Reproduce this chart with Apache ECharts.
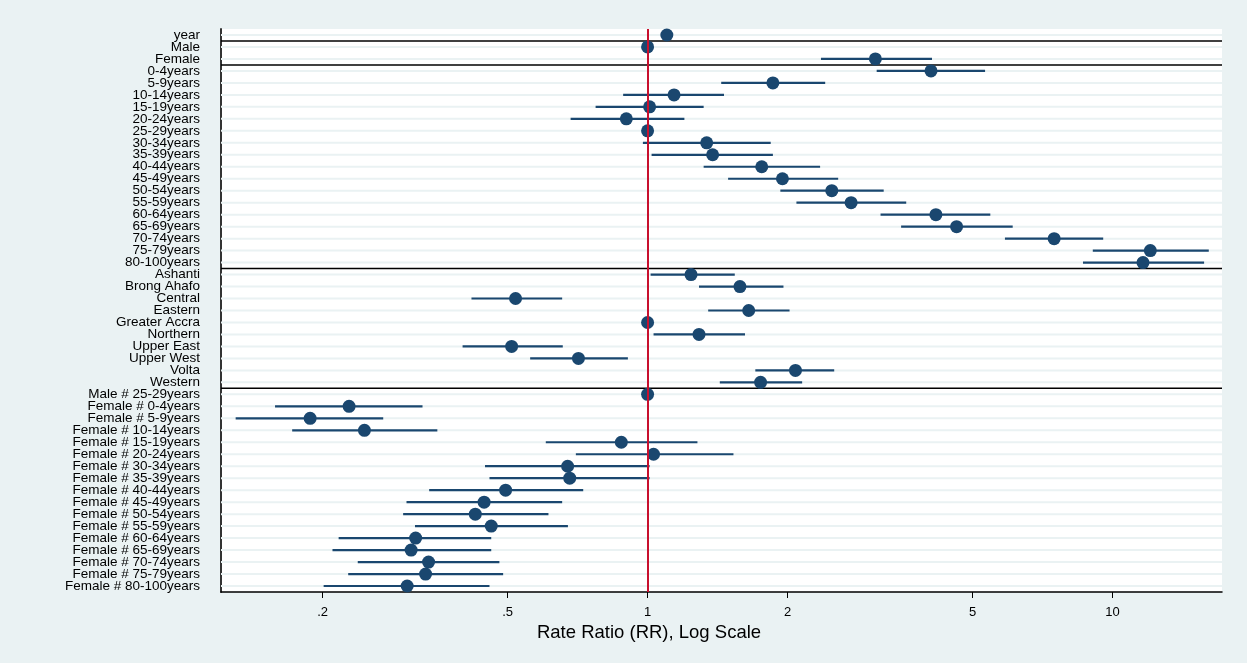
<!DOCTYPE html>
<html>
<head>
<meta charset="utf-8">
<title>Rate Ratio forest plot</title>
<script src="https://cdn.jsdelivr.net/npm/echarts@6/dist/echarts.min.js"></script>
<style>
html, body { margin: 0; padding: 0; background: #eaf2f3; }
#main { width: 1247px; height: 663px; }
</style>
</head>
<body>
<div id="main"></div>
<script>
// 行标签（从上到下）
var labels = ['year', 'Male', 'Female',
	'0-4years', '5-9years', '10-14years', '15-19years', '20-24years', '25-29years', '30-34years',
	'35-39years', '40-44years', '45-49years', '50-54years', '55-59years', '60-64years', '65-69years',
	'70-74years', '75-79years', '80-100years',
	'Ashanti', 'Brong Ahafo', 'Central', 'Eastern', 'Greater Accra', 'Northern', 'Upper East',
	'Upper West', 'Volta', 'Western',
	'Male # 25-29years', 'Female # 0-4years', 'Female # 5-9years', 'Female # 10-14years',
	'Female # 15-19years', 'Female # 20-24years', 'Female # 30-34years', 'Female # 35-39years',
	'Female # 40-44years', 'Female # 45-49years', 'Female # 50-54years', 'Female # 55-59years',
	'Female # 60-64years', 'Female # 65-69years', 'Female # 70-74years', 'Female # 75-79years',
	'Female # 80-100years'];

// 点估计 RR
var rr = [1.10, 1, 3.09,
	4.07, 1.86, 1.14, 1.01, 0.90, 1, 1.34, 1.38, 1.76, 1.95, 2.49, 2.74, 4.17, 4.62, 7.49, 12.06, 11.63,
	1.24, 1.58, 0.52, 1.65, 1, 1.29, 0.51, 0.71, 2.08, 1.75,
	1, 0.228, 0.188, 0.246, 0.878, 1.03, 0.673, 0.68, 0.495, 0.445, 0.426, 0.461, 0.317, 0.310,
	0.338, 0.333, 0.304];

// 95% 置信区间下限 / 上限（参照组为 null）
var lower = [1.09, null, 2.36,
	3.11, 1.44, 0.886, 0.773, 0.683, null, 0.977, 1.02, 1.32, 1.49, 1.93, 2.09, 3.17, 3.51, 5.87, 9.07, 8.64,
	1.015, 1.29, 0.418, 1.35, null, 1.03, 0.40, 0.559, 1.705, 1.43,
	null, 0.158, 0.130, 0.172, 0.604, 0.701, 0.447, 0.457, 0.339, 0.303, 0.298, 0.316, 0.2165, 0.210,
	0.238, 0.227, 0.201];
var upper = [1.11, null, 4.09,
	5.32, 2.41, 1.46, 1.32, 1.20, null, 1.84, 1.86, 2.35, 2.57, 3.22, 3.60, 5.46, 6.10, 9.55, 16.11, 15.74,
	1.54, 1.96, 0.655, 2.02, null, 1.62, 0.657, 0.907, 2.52, 2.15,
	null, 0.328, 0.27, 0.353, 1.28, 1.53, 1.01, 1.01, 0.727, 0.655, 0.612, 0.674, 0.461, 0.461,
	0.480, 0.489, 0.457];

// x轴刻度
var xTicks = [0.2, 0.5, 1, 2, 5, 10];

// 分组分隔线（画在这些行的上方）
var breaks = ['Male', '0-4years', 'Ashanti', 'Male # 25-29years'];

var FONT = '"Liberation Sans", Arial, sans-serif';
var NAVY = '#1a476f';

var myChart = echarts.init(document.getElementById('main'));

var ciData = [];
var ptData = [];
for (var i = 0; i < labels.length; i++) {
	ptData.push([rr[i], labels[i]]);
	if (lower[i] != null) {
		ciData.push([lower[i], upper[i], labels[i]]);
	}
}

myChart.setOption({
	backgroundColor : '#eaf2f3',
	animation : false,
	textStyle : {
		fontFamily : FONT
	},
	grid : {
		left : 221,
		right : 25,
		top : 29,
		bottom : 71,
		show : true,
		backgroundColor : '#ffffff',
		borderWidth : 0
	},
	xAxis : {
		type : 'log',
		logBase : 10,
		min : 0.1209,
		max : 17.2,
		axisLine : {
			show : true,
			lineStyle : { color : '#000', width : 1.5 }
		},
		axisTick : {
			show : true,
			customValues : xTicks,
			length : 6,
			lineStyle : { color : '#000', width : 1 }
		},
		axisLabel : {
			customValues : xTicks,
			color : '#000',
			fontSize : 13,
			margin : 14,
			formatter : function (v) {
				var r = Math.round(v * 10) / 10;
				return r < 1 ? String(r).replace(/^0/, '') : String(r);
			}
		},
		splitLine : { show : false },
		minorTick : { show : false }
	},
	yAxis : {
		type : 'category',
		data : labels,
		inverse : true,
		boundaryGap : true,
		axisLine : {
			show : true,
			lineStyle : { color : '#333', width : 2 }
		},
		axisTick : { show : false },
		axisLabel : {
			interval : 0,
			color : '#000',
			fontSize : 13.5,
			margin : 21
		},
		splitLine : { show : false }
	},
	// x轴标题
	graphic : [ {
		type : 'text',
		x : 649,
		y : 633,
		z : 100,
		style : {
			text : 'Rate Ratio (RR), Log Scale',
			fill : '#000',
			fontSize : 18.5,
			fontFamily : FONT,
			align : 'center',
			verticalAlign : 'middle'
		}
	} ],
	series : [ {
		// 每行的浅色网格线 + RR=1 参考线
		name : 'rows',
		type : 'custom',
		z : 1,
		data : labels.map(function (l) { return [1, l]; }),
		encode : { x : 0, y : 1 },
		renderItem : function (params, api) {
			var p = api.coord([api.value(0), api.value(1)]);
			var cs = params.coordSys;
			return {
				type : 'line',
				shape : { x1 : cs.x, y1 : p[1], x2 : cs.x + cs.width, y2 : p[1] },
				style : { stroke : '#eaf2f3', lineWidth : 2 }
			};
		},
		markLine : {
			silent : true,
			symbol : 'none',
			label : { show : false },
			lineStyle : { color : '#c8102e', width : 2, type : 'solid' },
			data : [ { xAxis : 1 } ]
		}
	}, {
		// 分组分隔线
		name : 'breaks',
		type : 'custom',
		z : 2,
		data : breaks.map(function (l) { return [1, l]; }),
		encode : { x : 0, y : 1 },
		renderItem : function (params, api) {
			var p = api.coord([api.value(0), api.value(1)]);
			var cs = params.coordSys;
			var y = p[1] - cs.height / labels.length / 2;
			return {
				type : 'line',
				shape : { x1 : cs.x, y1 : y, x2 : cs.x + cs.width, y2 : y },
				style : { stroke : '#000', lineWidth : 1.5 }
			};
		}
	}, {
		// 置信区间
		name : 'CI',
		type : 'custom',
		z : 3,
		data : ciData,
		encode : { x : [0, 1], y : 2 },
		renderItem : function (params, api) {
			var a = api.coord([api.value(0), api.value(2)]);
			var b = api.coord([api.value(1), api.value(2)]);
			return {
				type : 'line',
				shape : { x1 : a[0], y1 : a[1], x2 : b[0], y2 : b[1] },
				style : { stroke : NAVY, lineWidth : 2.2 }
			};
		}
	}, {
		name : 'RR',
		type : 'scatter',
		z : 4,
		symbol : 'circle',
		symbolSize : 13,
		itemStyle : { color : NAVY, opacity : 1 },
		data : ptData
	} ]
});
</script>
</body>
</html>
